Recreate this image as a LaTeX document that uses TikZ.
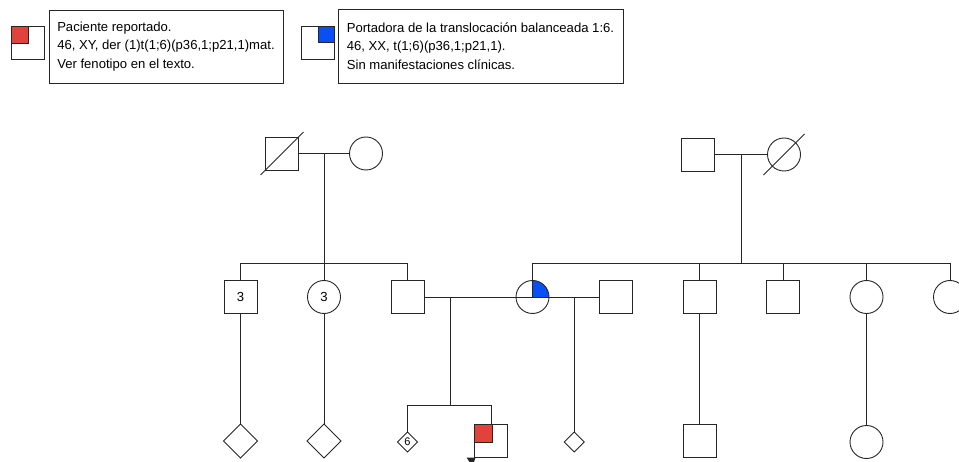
\documentclass[tikz,border=0pt]{standalone}
\usepackage{fontspec}
\setmainfont{Liberation Sans}
\usetikzlibrary{shapes.geometric, arrows.meta, positioning, calc}
\definecolor{pedRed}{RGB}{226,66,60}
\definecolor{pedBlue}{RGB}{8,80,245}
\tikzset{
    % Lines
    ped/.style={line width=0.9pt, draw=black!85},
    link/.style={ped},
    % Shapes
    male/.style={rectangle, ped, minimum size=33pt, inner sep=0pt, outer sep=0pt},
    female/.style={circle, ped, minimum size=33pt, inner sep=0pt, outer sep=0pt},
    unknown/.style={diamond, ped, minimum width=34pt, minimum height=34pt, inner sep=0pt, outer sep=0pt},
    smallunk/.style={unknown, minimum width=20pt, minimum height=20pt, font=\fontsize{11}{11}\selectfont},
    affected/.style={path picture={\filldraw[ped, fill=pedRed] ([shift={(1pt,-1pt)}]path picture bounding box.center) rectangle (path picture bounding box.north west);}},
    carrier/.style={path picture={\filldraw[ped, fill=pedBlue] (path picture bounding box.center) rectangle (path picture bounding box.north east);}},
    % Legend
    legend/.style={rectangle, ped, align=left, inner xsep=6.5pt, inner ysep=0pt, outer sep=0pt}
}
\begin{document}
\begin{tikzpicture}[x=1pt, y=-1pt, node distance=50.5pt, font=\fontsize{13.1}{18.5}\selectfont]
\useasboundingbox (0,0) rectangle (959,462);
\clip (0,0) rectangle (959,462);

% Legend
\node[male, affected] (legRed) at (27.5,42.5) {};
\node[legend, minimum width=234pt, minimum height=73pt] (legRedTxt) at (166,46.5)
    {Paciente reportado.\\46, XY, der (1)t(1;6)(p36,1;p21,1)mat.\\Ver fenotipo en el texto.};
\node[male, carrier] (legBlue) at (318,42.5) {};
\node[legend, minimum width=285pt, minimum height=74pt] (legBlueTxt) at (480.5,46)
    {Portadora de la translocación balanceada 1:6.\\46, XX, t(1;6)(p36,1;p21,1).\\Sin manifestaciones clínicas.};

% Generation I
\node[male] (i1) at (282,153.5) {};
\node[female, right=51pt of i1] (i2) {};
\node[male] (i3) at (698,154.5) {};
\node[female, right=53pt of i3] (i4) {};
\draw[link, shorten <=-7pt, shorten >=-7pt] (i1.south west) -- (i1.north east);
\draw[link, shorten <=-12.5pt, shorten >=-12.5pt] (i4.south west) -- (i4.north east);

% Generation II
\node[male] (ii1) at (240.5,297) {3};
\node[female, right=of ii1] (ii2) {3};
\node[male, right=of ii2] (ii3) {};
\node[female, carrier, right=92pt of ii3] (ii4) {};
\node[male, right=of ii4] (ii5) {};
\node[male, right=of ii5] (ii6) {};
\node[male, right=of ii6] (ii7) {};
\node[female, right=of ii7] (ii8) {};
\node[female, right=of ii8] (ii9) {};

% Generation III
\node[unknown, below=110.5pt of ii1] (iii1) {};
\node[unknown, below=110.5pt of ii2] (iii2) {};
\node[smallunk, below=118.5pt of ii3] (iii3) {6};
\node[male, affected] (iii4) at (491,441) {};
\path (ii4.east) -- coordinate[midway] (m4) (ii5.west);
\node[smallunk, below=135pt of m4] (iii5) {};
\node[male, below=110.5pt of ii6] (iii6) {};
\node[female, below=112pt of ii8] (iii7) {};

% Couples and descent
\draw[link] (i1.east) -- coordinate[midway] (m1) (i2.west);
\path (m1) ++(0,110) coordinate (sib1);
\draw[link] (m1) -- (sib1);
\draw[link] (ii1.north) |- (sib1) -| (ii3.north);
\draw[link] (sib1) -- (ii2.north);

\draw[link] (i3.east) -- coordinate[midway] (m2) (i4.west);
\path (m2) ++(0,109) coordinate (sib2);
\draw[link] (m2) -- (sib2);
\draw[link] (ii4.north) |- (sib2) -| (ii9.north);
\foreach \n in {ii6,ii7,ii8}
    \draw[link] (\n.north) -- (\n.north |- sib2);

\draw[link] (ii3.east) -- (ii4.center);
\path (ii3.east) ++(26,0) coordinate (m3);
\path (m3) ++(0,108.5) coordinate (sib3);
\draw[link] (m3) -- (sib3);
\draw[link] (iii3.north) |- (sib3) -| (iii4.north);

\draw[link] (ii4.east) -- (ii5.west);
\draw[link] (m4) -- (iii5.north);

\foreach \a/\b in {ii1/iii1, ii2/iii2, ii6/iii6, ii8/iii7}
    \draw[link] (\a.south) -- (\b.north);

% Proband arrow
\fill[black!85] ([xshift=-8pt]iii4.south west) -- ([xshift=1pt]iii4.south west)
    -- ([xshift=-2pt, yshift=-9pt]iii4.south west) -- cycle;

\end{tikzpicture}
\end{document}
